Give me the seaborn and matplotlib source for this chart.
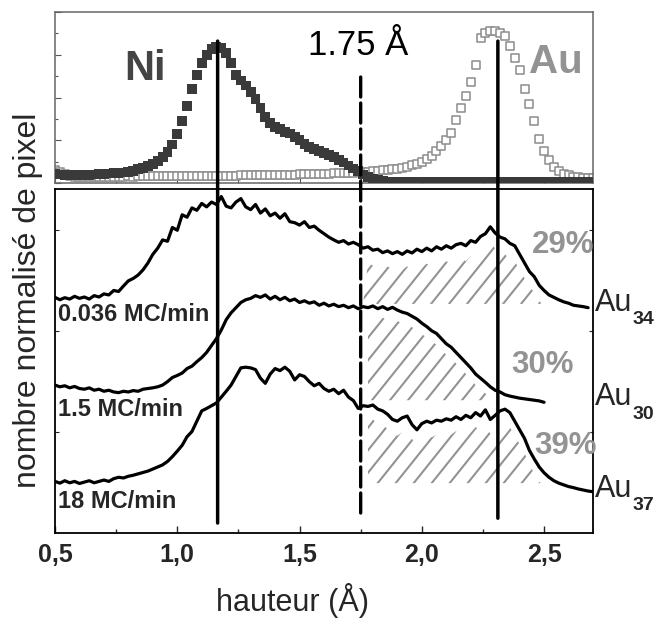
import numpy as np
import matplotlib
matplotlib.use("Agg")
import matplotlib.pyplot as plt
import seaborn as sns
from matplotlib.patches import ConnectionPatch
from matplotlib.collections import LineCollection
from matplotlib.ticker import MultipleLocator, NullFormatter

# ---------------- data ----------------
# top panel: pixel-height histograms of Ni and Au (normalised)
hauteur_top = np.round(np.arange(0.50, 2.701, 0.02), 2)
ni = [0.052, 0.050, 0.049, 0.047, 0.046, 0.046, 0.047, 0.049, 0.050, 0.052,
      0.054, 0.056, 0.058, 0.060, 0.062, 0.066, 0.072, 0.080, 0.090, 0.100,
      0.112, 0.128, 0.150, 0.180, 0.225, 0.285, 0.365, 0.450, 0.550, 0.630,
      0.700, 0.750, 0.785, 0.795, 0.790, 0.760, 0.700, 0.630, 0.600, 0.570,
      0.530, 0.490, 0.440, 0.385, 0.350, 0.330, 0.315, 0.300, 0.290, 0.270,
      0.250, 0.230, 0.212, 0.200, 0.188, 0.175, 0.162, 0.150, 0.136, 0.120,
      0.102, 0.085, 0.068, 0.050, 0.036, 0.026, 0.018, 0.012, 0.009, 0.008,
      0.008, 0.008, 0.007, 0.008, 0.008, 0.007, 0.008, 0.008, 0.008, 0.007,
      0.008, 0.008, 0.008, 0.007, 0.008, 0.008, 0.008, 0.007, 0.008, 0.008,
      0.008, 0.007, 0.008, 0.008, 0.008, 0.007, 0.008, 0.008, 0.008, 0.007,
      0.008, 0.008, 0.008, 0.007, 0.008, 0.008, 0.008, 0.007, 0.008, 0.008,
      0.008]
au = [0.075, 0.062, 0.050, 0.042, 0.038, 0.036, 0.036, 0.036, 0.037, 0.037,
      0.037, 0.038, 0.037, 0.038, 0.038, 0.039, 0.038, 0.039, 0.040, 0.039,
      0.040, 0.040, 0.041, 0.040, 0.041, 0.041, 0.042, 0.041, 0.042, 0.042,
      0.042, 0.043, 0.042, 0.043, 0.044, 0.043, 0.044, 0.044, 0.045, 0.045,
      0.045, 0.046, 0.045, 0.046, 0.047, 0.047, 0.047, 0.048, 0.048, 0.049,
      0.050, 0.050, 0.051, 0.052, 0.053, 0.054, 0.055, 0.056, 0.057, 0.058,
      0.059, 0.060, 0.062, 0.064, 0.066, 0.068, 0.071, 0.074, 0.077, 0.080,
      0.084, 0.089, 0.095, 0.103, 0.113, 0.125, 0.140, 0.160, 0.185, 0.215,
      0.250, 0.290, 0.370, 0.440, 0.510, 0.590, 0.690, 0.850, 0.880, 0.890,
      0.890, 0.880, 0.860, 0.800, 0.730, 0.660, 0.550, 0.460, 0.360, 0.260,
      0.190, 0.135, 0.095, 0.070, 0.055, 0.045, 0.038, 0.033, 0.030, 0.028,
      0.027]

# bottom panel: three height profiles (offset vertically)
hauteur_1 = np.round(np.arange(0.50, 2.681, 0.02), 2)
courbe_1 = [6.85, 6.78, 6.84, 6.80, 6.88, 6.82, 6.86, 6.80, 6.90, 6.86,
            6.95, 6.92, 7.05, 7.02, 7.18, 7.33, 7.40, 7.50, 7.65, 7.85,
            8.10, 8.28, 8.52, 8.48, 8.88, 8.80, 9.25, 9.18, 9.45, 9.38,
            9.58, 9.48, 9.62, 9.55, 9.78, 9.50, 9.45, 9.62, 9.72, 9.48,
            9.40, 9.55, 9.30, 9.42, 9.22, 9.30, 9.15, 9.28, 9.05, 9.02,
            8.95, 9.05, 8.88, 8.92, 8.80, 8.70, 8.60, 8.52, 8.45, 8.50,
            8.40, 8.45, 8.38, 8.28, 8.32, 8.22, 8.25, 8.15, 8.20, 8.12,
            8.18, 8.10, 8.20, 8.14, 8.25, 8.18, 8.28, 8.20, 8.32, 8.25,
            8.35, 8.28, 8.38, 8.42, 8.35, 8.50, 8.45, 8.62, 8.70, 8.90,
            8.72, 8.60, 8.55, 8.42, 8.35, 8.10, 7.85, 7.60, 7.45, 7.20,
            7.05, 6.92, 6.85, 6.78, 6.72, 6.68, 6.62, 6.60, 6.58, 6.55]
hauteur_2 = np.round(np.arange(0.50, 2.501, 0.02), 2)
courbe_2 = [4.30, 4.25, 4.28, 4.22, 4.26, 4.20, 4.18, 4.22, 4.15, 4.18,
            4.12, 4.15, 4.10, 4.08, 4.12, 4.10, 4.14, 4.12, 4.18, 4.20,
            4.22, 4.25, 4.30, 4.40, 4.52, 4.58, 4.65, 4.78, 4.85, 4.98,
            5.10, 5.25, 5.45, 5.65, 5.90, 6.20, 6.40, 6.55, 6.70, 6.78,
            6.82, 6.90, 6.85, 6.92, 6.80, 6.88, 6.78, 6.85, 6.75, 6.80,
            6.70, 6.75, 6.68, 6.72, 6.62, 6.68, 6.60, 6.65, 6.58, 6.62,
            6.55, 6.60, 6.52, 6.58, 6.55, 6.60, 6.52, 6.58, 6.50, 6.56,
            6.48, 6.42, 6.38, 6.30, 6.22, 6.10, 6.00, 5.88, 5.80, 5.65,
            5.50, 5.40, 5.25, 5.10, 4.95, 4.80, 4.62, 4.50, 4.38, 4.25,
            4.15, 4.10, 4.02, 3.98, 3.95, 3.92, 3.90, 3.88, 3.86, 3.84,
            3.80]
hauteur_3 = np.round(np.arange(0.50, 2.701, 0.02), 2)
courbe_3 = [1.50, 1.45, 1.52, 1.46, 1.50, 1.44, 1.48, 1.52, 1.46, 1.50,
            1.54, 1.50, 1.58, 1.62, 1.60, 1.65, 1.68, 1.72, 1.76, 1.80,
            1.86, 1.92, 1.98, 2.08, 2.22, 2.38, 2.55, 2.80, 2.95, 3.25,
            3.55, 3.62, 3.70, 3.78, 3.95, 4.12, 4.30, 4.55, 4.80, 4.82,
            4.80, 4.75, 4.50, 4.35, 4.62, 4.78, 4.72, 4.82, 4.70, 4.45,
            4.60, 4.55, 4.40, 4.28, 4.35, 4.20, 4.12, 4.18, 4.05, 4.15,
            3.95, 3.85, 3.62, 3.70, 3.68, 3.72, 3.60, 3.55, 3.45, 3.30,
            3.25, 3.35, 3.40, 3.15, 3.00, 3.18, 3.25, 3.20, 3.28, 3.25,
            3.32, 3.28, 3.38, 3.30, 3.42, 3.35, 3.50, 3.40, 3.58, 3.30,
            3.42, 3.55, 3.60, 3.50, 3.25, 3.00, 2.75, 2.40, 2.15, 1.92,
            1.75, 1.62, 1.52, 1.45, 1.40, 1.35, 1.32, 1.28, 1.25, 1.22,
            1.20]

vitesses = ["0.036 MC/min", "1.5 MC/min", "18 MC/min"]
vitesse_y = [6.35, 3.59, 0.93]
echantillons = ["34", "30", "37"]
echantillon_y = [6.46, 3.71, 1.04]
pourcentages = ["29%", "30%", "39%"]
pourcentage_pos = [(2.578, 8.38), (2.492, 4.87), (2.586, 2.52)]
base_hachures = [6.66, 3.86, 1.45]
coupure = 1.75
pics = [1.165, 2.311]
xtick_vals = [0.5, 1.0, 1.5, 2.0, 2.5]
xtick_labels = ["0,5", "1,0", "1,5", "2,0", "2,5"]

# ---------------- style ----------------
sns.set_style("ticks")
plt.rcParams["font.family"] = ["Liberation Sans", "DejaVu Sans"]

fig = plt.figure(figsize=(6.58, 6.2), dpi=100)
ax_top = fig.add_axes([0.0836, 0.7048, 0.8176, 0.2758])
ax_bot = fig.add_axes([0.0836, 0.1403, 0.8176, 0.5549])

XMIN, XMAX = 0.5, 2.70
YMAX_BOT = 10.0
GRIS = "#939393"

# ---- top panel ----
n = min(len(hauteur_top), len(au))
sns.scatterplot(x=hauteur_top[:n], y=au[:n], marker="s", s=30, color="white",
                edgecolor="#8c8c8c", linewidth=1.1, ax=ax_top, zorder=2, legend=False)
n = min(len(hauteur_top), len(ni))
sns.scatterplot(x=hauteur_top[:n], y=ni[:n], marker="s", s=50, color="#3a3a3a",
                edgecolor="none", ax=ax_top, zorder=3, legend=False)
ax_top.set_xlim(XMIN, XMAX)
ax_top.set_ylim(0, 1.0)
ax_top.set_xlabel("")
ax_top.set_ylabel("")
ax_top.xaxis.set_major_locator(MultipleLocator(0.25))
ax_top.yaxis.set_major_locator(MultipleLocator(0.25))
ax_top.yaxis.set_minor_locator(MultipleLocator(0.125))
ax_top.xaxis.set_major_formatter(NullFormatter())
ax_top.yaxis.set_major_formatter(NullFormatter())
ax_top.tick_params(axis="both", which="major", direction="in", length=4, width=0.8,
                   color="#555555", left=True, bottom=True, right=False, top=False)
ax_top.tick_params(axis="y", which="minor", direction="in", length=2.5, width=0.8,
                   color="#555555", left=True)
for sp in ax_top.spines.values():
    sp.set_visible(True)
    sp.set_color("#666666")
    sp.set_linewidth(1.1)

ax_top.text(0.869, 0.665, "Ni", fontsize=30, fontweight="bold", color="#444444",
            ha="center", va="center", zorder=6)
ax_top.text(2.549, 0.706, "Au", fontsize=29, fontweight="bold", color=GRIS,
            ha="center", va="center", zorder=6)
ax_top.text(1.738, 0.806, "1.75 Å", fontsize=25, color="black", ha="center", va="center")

# ---- bottom panel ----
ax_bot.set_xlim(XMIN, XMAX)
ax_bot.set_ylim(0, YMAX_BOT)

# diagonal hatch lines (style): steeper than 45 deg, ~18 px apart
fig_w_px = fig.get_figwidth() * fig.dpi * 0.8176
fig_h_px = fig.get_figheight() * fig.dpi * 0.5549
dx_per_px = (XMAX - XMIN) / fig_w_px
dy_per_px = YMAX_BOT / fig_h_px
slope = 1.25
run = (YMAX_BOT / dy_per_px) / slope * dx_per_px
step = 18 * dx_per_px
starts = np.arange(XMIN - run, XMAX + step, step)
segs_template = [[(s, 0.0), (s + run, YMAX_BOT)] for s in starts]

series = [(hauteur_1, courbe_1), (hauteur_2, courbe_2), (hauteur_3, courbe_3)]
gaps = [0.45, 0.32, 0.42]
for (hx, hy), base, gap in zip(series, base_hachures, gaps):
    n = min(len(hx), len(hy))
    hx = np.asarray(hx[:n])
    hy = np.asarray(hy[:n], dtype=float)
    sns.lineplot(x=hx, y=hy, color="black", linewidth=2.3, ax=ax_bot,
                 estimator=None, sort=False, zorder=3)
    upper = hy - gap
    mask = (hx >= coupure + 0.02) & (upper > base)
    region = ax_bot.fill_between(hx, base, upper, where=mask, interpolate=True,
                                 facecolor="none", edgecolor="none", linewidth=0,
                                 zorder=1)
    paths = region.get_paths()
    if paths:
        lc = LineCollection(segs_template, colors=GRIS, linewidths=1.5, zorder=1)
        ax_bot.add_collection(lc)
        lc.set_clip_path(paths[0], ax_bot.transData)

ax_bot.set_xlim(XMIN, XMAX)
ax_bot.set_ylim(0, YMAX_BOT)
ax_bot.set_xlabel("")
ax_bot.set_ylabel("")
ax_bot.set_xticks(xtick_vals)
ax_bot.set_xticklabels(xtick_labels, fontsize=18, fontweight="bold")
ax_bot.xaxis.set_minor_locator(MultipleLocator(0.25))
ax_bot.set_yticks([2.93, 5.88, 8.81])
ax_bot.yaxis.set_major_formatter(NullFormatter())
ax_bot.tick_params(axis="x", which="major", direction="in", length=5, width=1.0,
                   pad=7, bottom=True, top=False)
ax_bot.tick_params(axis="x", which="minor", direction="in", length=3, width=1.0,
                   bottom=True, top=False)
ax_bot.tick_params(axis="y", which="major", direction="in", length=3, width=0.8,
                   left=True, right=True)
for sp in ax_bot.spines.values():
    sp.set_visible(True)
    sp.set_color("black")
    sp.set_linewidth(1.3)

for lab, yy in zip(vitesses, vitesse_y):
    ax_bot.text(0.512, yy, lab, fontsize=17, fontweight="bold", ha="left", va="center")
for lab, (px, py) in zip(pourcentages, pourcentage_pos):
    ax_bot.text(px, py, lab, fontsize=22.5, fontweight="bold", color=GRIS,
                ha="center", va="center", zorder=4)
trans = matplotlib.transforms.blended_transform_factory(ax_bot.transAxes, ax_bot.transData)
for lab, yy in zip(echantillons, echantillon_y):
    ax_bot.text(1.004, yy, "Au", fontsize=22, transform=trans,
                ha="left", va="baseline", clip_on=False)
    ax_bot.annotate(lab, xy=(1.0, yy), xycoords=trans, xytext=(28.5, -9.5),
                    textcoords="offset points", fontsize=14, fontweight="bold",
                    ha="left", va="baseline", annotation_clip=False)

# vertical guide lines crossing both panels
for xv, ybot in zip(pics, [0.29, 0.43]):
    con = ConnectionPatch(xyA=(xv, 0.83), coordsA=ax_top.transData,
                          xyB=(xv, ybot), coordsB=ax_bot.transData,
                          color="black", linewidth=2.5, zorder=5)
    fig.add_artist(con)
con = ConnectionPatch(xyA=(coupure, 0.62), coordsA=ax_top.transData,
                      xyB=(coupure, 0.52), coordsB=ax_bot.transData,
                      color="black", linewidth=2.4, linestyle=(0, (6, 1.8)), zorder=5)
fig.add_artist(con)

fig.text(0.0426, 0.516, "nombre normalisé de pixel", rotation=90, fontsize=23,
         ha="center", va="center")
fig.text(292 / 658, 1 - 601 / 620, "hauteur (Å)", fontsize=22, ha="center", va="center")

fig.savefig("out.png", dpi=100)
